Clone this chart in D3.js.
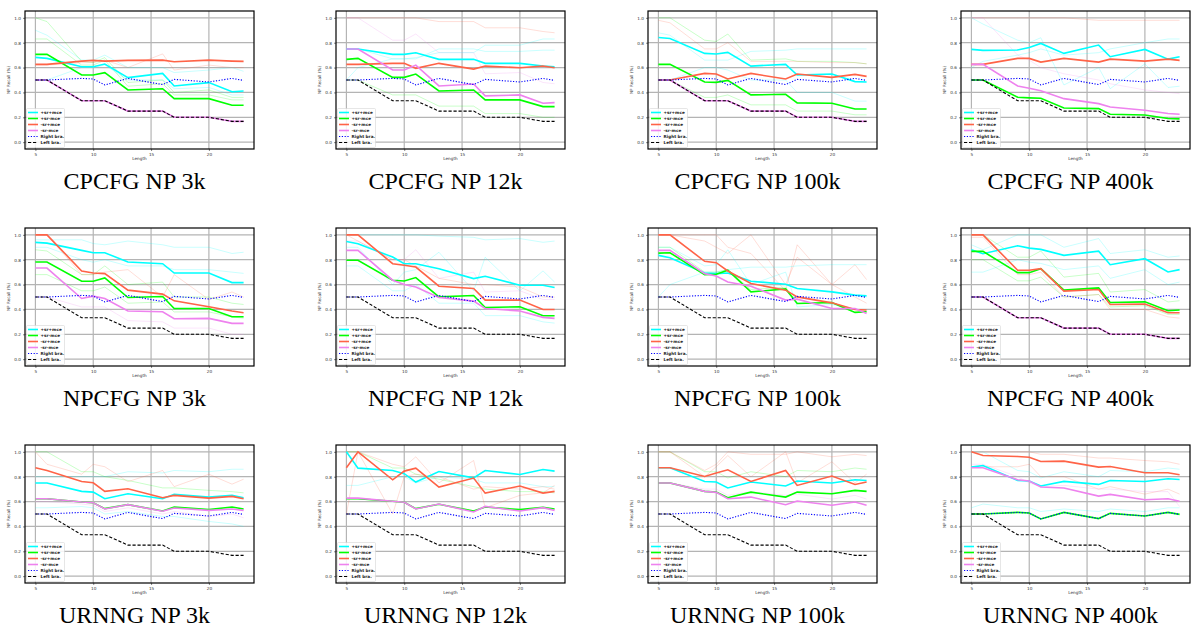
<!DOCTYPE html>
<html>
<head>
<meta charset="utf-8">
<script src="https://cdn.jsdelivr.net/npm/d3@7"></script>
<style>
  body { margin: 0; background: #fff; }
  svg { display: block; }
</style>
</head>
<body>
<script>
// base data
const lengths = [5, 6, 9, 10, 11, 13, 16, 17, 20, 22, 23];
const titles = [
  'CPCFG NP 3k', 'CPCFG NP 12k', 'CPCFG NP 100k', 'CPCFG NP 400k',
  'NPCFG NP 3k', 'NPCFG NP 12k', 'NPCFG NP 100k', 'NPCFG NP 400k',
  'URNNG NP 3k', 'URNNG NP 12k', 'URNNG NP 100k', 'URNNG NP 400k'
];
const seriesNames = ['+sr+mce', '+sr-mce', '-sr+mce', '-sr-mce', 'Right bra.', 'Left bra.'];
const yTicks = [0, 0.2, 0.4, 0.6, 0.8, 1.0];
const xTicks = [5, 10, 15, 20];

// baselines, same in every panel
const rightBra = [0.5, 0.5, 0.513, 0.508, 0.46, 0.513, 0.463, 0.505, 0.484, 0.513, 0.497];
const leftBra = [0.5, 0.5, 0.333, 0.333, 0.333, 0.25, 0.25, 0.2, 0.2, 0.167, 0.167];

// +sr+mce, one list per panel
const srMce = [
  [0.682, 0.674, 0.607, 0.607, 0.628, 0.519, 0.553, 0.452, 0.479, 0.406, 0.412],
  [0.749, 0.749, 0.706, 0.706, 0.719, 0.666, 0.666, 0.634, 0.634, 0.612, 0.607],
  [0.842, 0.834, 0.714, 0.709, 0.722, 0.612, 0.626, 0.54, 0.548, 0.487, 0.484],
  [0.746, 0.738, 0.741, 0.762, 0.794, 0.714, 0.781, 0.687, 0.746, 0.668, 0.687],
  [0.939, 0.933, 0.875, 0.856, 0.856, 0.781, 0.768, 0.693, 0.693, 0.616, 0.616],
  [0.947, 0.928, 0.821, 0.768, 0.768, 0.728, 0.648, 0.667, 0.595, 0.595, 0.576],
  [0.835, 0.816, 0.693, 0.688, 0.693, 0.627, 0.603, 0.568, 0.541, 0.515, 0.509],
  [0.88, 0.848, 0.912, 0.893, 0.883, 0.835, 0.869, 0.76, 0.808, 0.701, 0.72],
  [0.749, 0.749, 0.682, 0.676, 0.623, 0.663, 0.623, 0.658, 0.636, 0.65, 0.631],
  [1.0, 0.869, 0.85, 0.824, 0.757, 0.842, 0.791, 0.85, 0.818, 0.858, 0.845],
  [0.872, 0.872, 0.762, 0.757, 0.709, 0.757, 0.725, 0.765, 0.749, 0.775, 0.77],
  [0.877, 0.89, 0.77, 0.765, 0.725, 0.762, 0.738, 0.77, 0.762, 0.783, 0.778]
];
// +sr-mce
const srNoMce = [
  [0.706, 0.706, 0.54, 0.54, 0.559, 0.42, 0.43, 0.35, 0.35, 0.297, 0.297],
  [0.666, 0.674, 0.521, 0.521, 0.548, 0.412, 0.42, 0.34, 0.34, 0.286, 0.286],
  [0.626, 0.626, 0.484, 0.481, 0.497, 0.38, 0.385, 0.316, 0.313, 0.267, 0.267],
  [0.5, 0.5, 0.361, 0.356, 0.353, 0.275, 0.27, 0.225, 0.219, 0.19, 0.187],
  [0.781, 0.781, 0.627, 0.627, 0.653, 0.496, 0.504, 0.408, 0.408, 0.341, 0.341],
  [0.795, 0.795, 0.635, 0.629, 0.656, 0.501, 0.512, 0.416, 0.421, 0.349, 0.349],
  [0.853, 0.856, 0.68, 0.683, 0.715, 0.541, 0.565, 0.448, 0.456, 0.376, 0.381],
  [0.867, 0.867, 0.696, 0.696, 0.728, 0.555, 0.573, 0.456, 0.461, 0.389, 0.395],
  [0.623, 0.623, 0.596, 0.591, 0.543, 0.575, 0.524, 0.556, 0.535, 0.556, 0.54],
  [0.623, 0.623, 0.602, 0.594, 0.543, 0.578, 0.524, 0.556, 0.535, 0.553, 0.54],
  [0.749, 0.749, 0.682, 0.676, 0.631, 0.676, 0.636, 0.676, 0.663, 0.69, 0.682],
  [0.5, 0.5, 0.513, 0.508, 0.46, 0.513, 0.463, 0.505, 0.484, 0.513, 0.497]
];
// -sr+mce
const noSrMce = [
  [0.626, 0.626, 0.652, 0.658, 0.652, 0.658, 0.66, 0.647, 0.66, 0.652, 0.65],
  [0.626, 0.626, 0.634, 0.634, 0.594, 0.634, 0.588, 0.612, 0.599, 0.612, 0.599],
  [0.5, 0.5, 0.553, 0.548, 0.508, 0.553, 0.508, 0.548, 0.521, 0.545, 0.529],
  [0.626, 0.626, 0.674, 0.674, 0.644, 0.674, 0.644, 0.668, 0.652, 0.668, 0.658],
  [1.0, 1.0, 0.709, 0.693, 0.688, 0.555, 0.523, 0.469, 0.421, 0.387, 0.373],
  [1.0, 1.0, 0.768, 0.755, 0.741, 0.587, 0.568, 0.475, 0.475, 0.4, 0.4],
  [1.0, 1.0, 0.787, 0.776, 0.709, 0.608, 0.555, 0.501, 0.453, 0.4, 0.395],
  [1.0, 1.0, 0.715, 0.715, 0.728, 0.547, 0.56, 0.44, 0.443, 0.373, 0.373],
  [0.872, 0.85, 0.762, 0.751, 0.682, 0.703, 0.631, 0.65, 0.628, 0.642, 0.623],
  [0.872, 1.0, 0.775, 0.845, 0.869, 0.717, 0.789, 0.668, 0.725, 0.668, 0.682],
  [0.872, 0.872, 0.802, 0.829, 0.856, 0.762, 0.85, 0.73, 0.805, 0.738, 0.757],
  [1.0, 0.971, 0.963, 0.957, 0.922, 0.925, 0.877, 0.882, 0.832, 0.832, 0.816]
];
// -sr-mce
const noSrNoMce = [
  [0.5, 0.5, 0.333, 0.333, 0.333, 0.25, 0.25, 0.2, 0.2, 0.167, 0.167],
  [0.749, 0.749, 0.58, 0.58, 0.62, 0.452, 0.468, 0.372, 0.38, 0.313, 0.318],
  [0.5, 0.5, 0.333, 0.333, 0.333, 0.25, 0.25, 0.2, 0.2, 0.167, 0.167],
  [0.626, 0.626, 0.452, 0.433, 0.414, 0.35, 0.31, 0.283, 0.257, 0.23, 0.225],
  [0.733, 0.733, 0.488, 0.507, 0.488, 0.387, 0.381, 0.325, 0.328, 0.288, 0.288],
  [0.875, 0.875, 0.635, 0.6, 0.581, 0.496, 0.467, 0.408, 0.387, 0.336, 0.328],
  [0.875, 0.875, 0.688, 0.669, 0.621, 0.587, 0.475, 0.483, 0.408, 0.408, 0.368],
  [0.5, 0.5, 0.333, 0.333, 0.333, 0.25, 0.25, 0.2, 0.2, 0.167, 0.167],
  [0.623, 0.623, 0.596, 0.591, 0.54, 0.575, 0.522, 0.548, 0.529, 0.54, 0.529],
  [0.628, 0.628, 0.602, 0.594, 0.54, 0.58, 0.516, 0.561, 0.524, 0.551, 0.529],
  [0.749, 0.749, 0.682, 0.674, 0.623, 0.636, 0.575, 0.604, 0.57, 0.596, 0.57],
  [0.872, 0.872, 0.775, 0.765, 0.717, 0.709, 0.644, 0.658, 0.615, 0.623, 0.602]
];

// faint single-run lines per panel: [series index, values]
const faintRuns = [
  [[0, [0.90, 0.86, 0.66, 0.66, 0.70, 0.60, 0.60, 0.56, 0.58, 0.60, 0.57]],
   [1, [1.0, 0.97, 0.65, 0.64, 0.68, 0.48, 0.50, 0.40, 0.42, 0.36, 0.36]],
   [1, [0.83, 0.83, 0.62, 0.62, 0.66, 0.45, 0.47, 0.38, 0.38, 0.34, 0.34]],
   [2, [0.62, 0.62, 0.64, 0.64, 0.66, 0.60, 0.71, 0.58, 0.62, 0.60, 0.60]],
   [0, [0.50, 0.50, 0.60, 0.60, 0.62, 0.50, 0.50, 0.43, 0.44, 0.38, 0.38]]],
  [[2, [1.0, 1.0, 1.0, 1.0, 1.0, 0.97, 0.97, 0.92, 0.92, 0.89, 0.88]],
   [3, [1.0, 1.0, 0.82, 0.82, 0.87, 0.72, 0.72, 0.55, 0.56, 0.48, 0.47]],
   [0, [0.75, 0.75, 0.67, 0.67, 0.67, 0.75, 0.75, 0.73, 0.73, 0.74, 0.74]],
   [0, [0.5, 0.6, 0.67, 0.67, 0.68, 0.72, 0.72, 0.78, 0.78, 0.83, 0.83]],
   [1, [0.5, 0.5, 0.38, 0.38, 0.38, 0.29, 0.29, 0.23, 0.23, 0.2, 0.2]]],
  [[1, [1.0, 1.0, 0.82, 0.81, 0.87, 0.66, 0.67, 0.65, 0.65, 0.64, 0.63]],
   [0, [0.88, 0.86, 0.66, 0.66, 0.66, 0.73, 0.74, 0.75, 0.75, 0.75, 0.75]],
   [2, [0.98, 0.96, 0.75, 0.75, 0.8, 0.65, 0.65, 0.65, 0.64, 0.64, 0.63]],
   [0, [0.5, 0.5, 0.6, 0.6, 0.58, 0.5, 0.5, 0.4, 0.4, 0.33, 0.33]],
   [1, [0.5, 0.5, 0.36, 0.36, 0.38, 0.3, 0.3, 0.25, 0.25, 0.22, 0.22]]],
  [[0, [1.0, 0.95, 0.82, 0.8, 0.84, 0.46, 0.6, 0.43, 0.63, 0.44, 0.45]],
   [2, [1.0, 1.0, 1.0, 1.0, 1.0, 1.0, 0.98, 0.98, 0.98, 0.98, 0.98]],
   [3, [1.0, 1.0, 0.7, 0.66, 0.6, 0.55, 0.5, 0.47, 0.42, 0.4, 0.39]],
   [0, [0.6, 0.65, 0.7, 0.72, 0.75, 0.7, 0.72, 0.75, 0.8, 0.83, 0.83]]],
  [[0, [0.96, 0.96, 0.96, 0.93, 0.92, 0.95, 0.92, 0.9, 0.9, 0.85, 0.86]],
   [0, [0.9, 0.9, 0.8, 0.78, 0.8, 0.75, 0.75, 0.72, 0.72, 0.7, 0.69]],
   [1, [0.88, 0.87, 0.68, 0.68, 0.75, 0.6, 0.62, 0.5, 0.5, 0.45, 0.44]],
   [2, [1.0, 1.0, 0.68, 0.68, 0.7, 0.72, 0.5, 0.68, 0.48, 0.54, 0.5]],
   [1, [0.68, 0.68, 0.55, 0.55, 0.58, 0.45, 0.46, 0.38, 0.38, 0.34, 0.33]],
   [3, [0.5, 0.5, 0.42, 0.42, 0.42, 0.31, 0.3, 0.25, 0.25, 0.2, 0.2]]],
  [[0, [1.0, 1.0, 1.0, 1.0, 1.0, 0.99, 0.98, 0.96, 0.97, 0.94, 0.95]],
   [0, [0.9, 0.9, 0.6, 0.7, 0.72, 0.86, 0.55, 0.82, 0.55, 0.71, 0.62]],
   [3, [0.95, 0.95, 0.8, 0.8, 0.88, 0.65, 0.7, 0.54, 0.55, 0.48, 0.48]],
   [0, [0.75, 0.75, 0.55, 0.55, 0.6, 0.45, 0.45, 0.35, 0.35, 0.3, 0.29]],
   [2, [1.0, 0.95, 0.8, 0.8, 0.75, 0.65, 0.6, 0.6, 0.58, 0.5, 0.5]]],
  [[2, [1.0, 1.0, 1.0, 1.0, 0.9, 0.85, 0.55, 0.92, 0.6, 0.76, 0.64]],
   [2, [1.0, 1.0, 0.95, 0.9, 0.85, 1.0, 0.6, 0.82, 0.6, 0.5, 0.45]],
   [0, [0.5, 0.6, 0.7, 0.7, 0.72, 0.74, 0.74, 0.75, 0.76, 0.76, 0.76]],
   [0, [0.9, 0.9, 0.75, 0.76, 0.88, 0.6, 0.7, 0.42, 0.44, 0.4, 0.4]],
   [1, [0.9, 0.9, 0.7, 0.7, 0.72, 0.56, 0.58, 0.45, 0.45, 0.4, 0.38]]],
  [[0, [0.92, 0.88, 1.0, 1.0, 1.0, 0.9, 0.97, 0.85, 0.88, 0.82, 0.83]],
   [0, [0.7, 0.7, 0.8, 0.78, 0.77, 0.72, 0.75, 0.65, 0.72, 0.6, 0.62]],
   [1, [1.0, 1.0, 0.82, 0.82, 0.87, 0.66, 0.69, 0.54, 0.56, 0.46, 0.47]],
   [1, [0.8, 0.8, 0.63, 0.63, 0.66, 0.5, 0.52, 0.42, 0.43, 0.36, 0.36]],
   [2, [0.98, 0.98, 0.68, 0.68, 0.7, 0.5, 0.52, 0.4, 0.4, 0.34, 0.33]]],
  [[1, [1.0, 1.0, 0.84, 0.84, 0.8, 0.77, 0.71, 0.71, 0.69, 0.68, 0.67]],
   [0, [0.8, 0.8, 0.8, 0.8, 0.8, 0.84, 0.83, 0.85, 0.84, 0.86, 0.86]],
   [2, [1.0, 0.9, 0.82, 0.9, 0.88, 0.76, 0.85, 0.72, 0.82, 0.74, 0.78]],
   [0, [0.55, 0.55, 0.56, 0.55, 0.5, 0.52, 0.48, 0.48, 0.44, 0.42, 0.4]],
   [3, [0.6, 0.6, 0.58, 0.57, 0.52, 0.55, 0.5, 0.52, 0.48, 0.5, 0.47]]],
  [[0, [0.73, 0.73, 0.8, 0.8, 0.75, 0.8, 0.78, 0.75, 0.75, 0.72, 0.72]],
   [2, [1.0, 1.0, 0.9, 0.88, 0.96, 0.75, 0.93, 0.55, 0.65, 0.67, 0.73]],
   [2, [0.5, 1.0, 0.5, 0.8, 0.82, 0.8, 0.7, 0.72, 0.7, 0.72, 0.7]],
   [1, [1.0, 1.0, 0.87, 0.87, 0.82, 0.78, 0.72, 0.7, 0.68, 0.68, 0.67]]],
  [[1, [1.0, 1.0, 0.84, 0.84, 0.79, 0.84, 0.8, 0.85, 0.84, 0.87, 0.86]],
   [2, [1.0, 1.0, 0.85, 0.9, 1.0, 0.98, 0.98, 1.0, 0.96, 0.98, 0.97]],
   [2, [1.0, 1.0, 0.8, 0.88, 0.97, 0.8, 1.0, 0.75, 0.92, 0.75, 0.82]],
   [3, [0.75, 0.75, 0.7, 0.7, 0.65, 0.68, 0.65, 0.66, 0.62, 0.65, 0.62]]],
  [[0, [1.0, 1.0, 0.85, 0.84, 0.79, 0.84, 0.8, 0.85, 0.84, 0.87, 0.86]],
   [2, [1.0, 1.0, 1.0, 1.0, 0.98, 0.98, 0.95, 0.95, 0.93, 0.92, 0.9]],
   [2, [0.88, 0.88, 0.88, 0.9, 0.8, 0.8, 0.7, 0.72, 0.66, 0.7, 0.66]],
   [0, [0.55, 0.58, 0.55, 0.55, 0.52, 0.54, 0.52, 0.54, 0.52, 0.55, 0.55]],
   [3, [0.9, 0.9, 0.8, 0.75, 0.72, 0.73, 0.7, 0.7, 0.68, 0.68, 0.56]]]
];

// constants
const width = 1192;
const height = 628;
const colLeft = [25, 336, 648, 961];
const rowTop = [11, 228, 445];
const plotW = 229;
const plotH = 138;
const colors = ['#00ffff', '#00ff00', '#ff6347', '#ee82ee', '#0000ff', '#000000'];
const dashes = [null, null, null, null, '1.2,1.6', '3.2,1.8'];

const svg = d3.select('body').append('svg')
  .attr('width', width).attr('height', height)
  .style('font-family', 'DejaVu Sans');

svg.append('rect').attr('width', width).attr('height', height).attr('fill', '#fff');

const xScale = d3.scaleLinear().domain([4.1, 23.9]).range([0, plotW]);
const yScale = d3.scaleLinear().domain([-0.055, 1.055]).range([plotH, 0]);

const line = d3.line()
  .x((d, i) => xScale(lengths[i]))
  .y((d) => yScale(d));

titles.forEach((title, p) => {
  const col = p % 4, row = Math.floor(p / 4);
  const g = svg.append('g')
    .attr('transform', `translate(${colLeft[col]}, ${rowTop[row]})`);

  // grid
  g.append('g').selectAll('line.gx').data(xTicks).enter().append('line')
    .attr('x1', (d) => xScale(d)).attr('x2', (d) => xScale(d))
    .attr('y1', 0).attr('y2', plotH)
    .attr('stroke', '#b4b4b4').attr('stroke-width', 1.2);
  g.append('g').selectAll('line.gy').data(yTicks).enter().append('line')
    .attr('x1', 0).attr('x2', plotW)
    .attr('y1', (d) => yScale(d)).attr('y2', (d) => yScale(d))
    .attr('stroke', '#b4b4b4').attr('stroke-width', 1.2);

  // faint runs
  g.append('g').selectAll('path').data(faintRuns[p]).enter().append('path')
    .attr('d', (d) => line(d[1]))
    .attr('fill', 'none').attr('stroke', (d) => colors[d[0]])
    .attr('stroke-opacity', 0.27).attr('stroke-width', 0.8);

  // main series
  const main = [srMce[p], srNoMce[p], noSrMce[p], noSrNoMce[p], rightBra, leftBra];
  g.append('g').selectAll('path').data(main).enter().append('path')
    .attr('d', (d) => line(d))
    .attr('fill', 'none')
    .attr('stroke', (d, i) => colors[i])
    .attr('stroke-width', (d, i) => i < 4 ? 1.6 : 1.1)
    .attr('stroke-dasharray', (d, i) => dashes[i]);

  // axes
  const xAxis = g.append('g').attr('transform', `translate(0, ${plotH})`)
    .call(d3.axisBottom(xScale).tickValues(xTicks).tickSize(2).tickPadding(2));
  const yAxis = g.append('g')
    .call(d3.axisLeft(yScale).tickValues(yTicks).tickSize(2).tickPadding(2).tickFormat(d3.format('.1f')));
  [xAxis, yAxis].forEach((a) => {
    a.select('.domain').remove();
    a.selectAll('text').attr('font-size', 4.2).attr('fill', '#333').attr('font-family', 'DejaVu Sans');
    a.selectAll('line').attr('stroke', '#333').attr('stroke-width', 0.6);
  });

  // frame
  g.append('rect').attr('width', plotW).attr('height', plotH)
    .attr('fill', 'none').attr('stroke', '#000').attr('stroke-width', 1.2);

  // axis labels
  g.append('text').attr('x', plotW / 2).attr('y', plotH + 11)
    .attr('text-anchor', 'middle').attr('font-size', 4.2).attr('fill', '#333').text('Length');
  g.append('text').attr('transform', `translate(-15, ${plotH / 2}) rotate(-90)`)
    .attr('text-anchor', 'middle').attr('font-size', 4.2).attr('fill', '#333').text('NP Recall (%)');

  // legend
  const lg = g.append('g').attr('transform', `translate(1.5, ${plotH - 40.5})`);
  lg.append('rect').attr('width', 38).attr('height', 39).attr('rx', 1)
    .attr('fill', '#fff').attr('fill-opacity', 0.85)
    .attr('stroke', '#ccc').attr('stroke-width', 0.5);
  seriesNames.forEach((name, i) => {
    const y = 4 + i * 6;
    lg.append('line').attr('x1', 1.5).attr('x2', 11.5).attr('y1', y).attr('y2', y)
      .attr('stroke', colors[i]).attr('stroke-width', i < 4 ? 1.6 : 1.1)
      .attr('stroke-dasharray', dashes[i]);
    lg.append('text').attr('x', 14).attr('y', y + 1.5)
      .attr('font-size', 4.2).attr('font-weight', 'bold').attr('fill', '#222').text(name);
  });

  // title
  svg.append('text')
    .attr('x', colLeft[col] + plotW / 2 - 5).attr('y', rowTop[row] + 178)
    .attr('text-anchor', 'middle')
    .attr('font-family', 'Liberation Serif, Times New Roman, serif')
    .attr('font-size', 24).attr('fill', '#000').text(title);
});
</script>
</body>
</html>
